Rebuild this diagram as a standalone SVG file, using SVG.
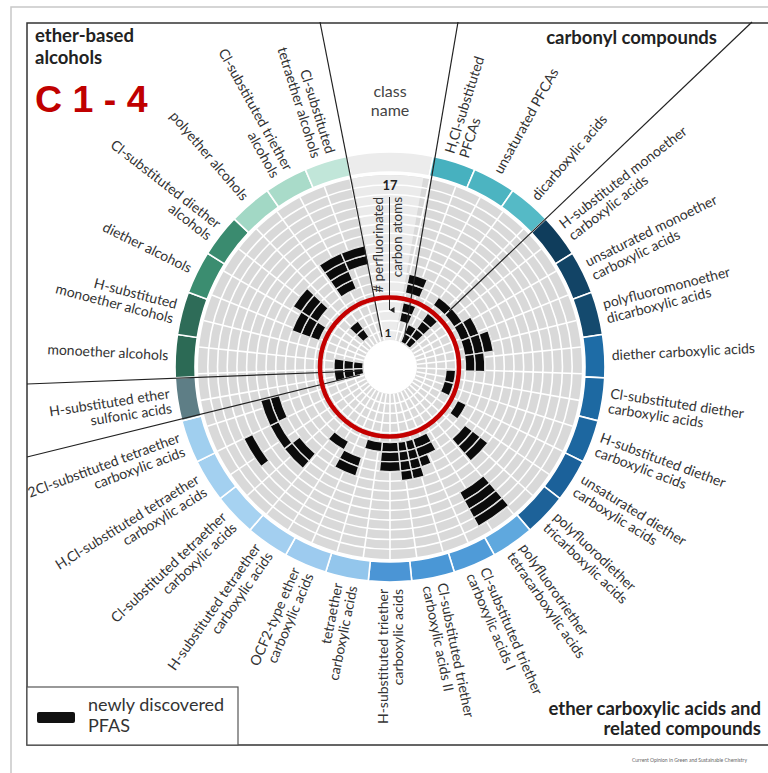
<svg xmlns="http://www.w3.org/2000/svg" width="768" height="773" viewBox="0 0 768 773">
<style>
.lbl{font-family:Lato,"Open Sans",sans-serif;font-size:14px;fill:#333}
.r{text-anchor:end}
.hd{font-family:Lato,"Open Sans",sans-serif;font-size:18.5px;font-weight:bold;fill:#222}
.seg{stroke:#fff;stroke-width:1.6}
.cell{fill:#0b0b0b;stroke:#e2e2e2;stroke-width:1.4;stroke-linejoin:round}
.grid{stroke:#fff;stroke-width:1.6;fill:none}
.guide{stroke:#222;stroke-width:1.2;fill:none}
</style>
<defs>
<path id="seg" class="seg" d="M-21.747,-213.897 A215 215 0 0 1 21.747,-213.897 L19.724,-194 A195 195 0 0 0 -19.724,-194Z"/>
<line id="gl" x1="0" y1="-27" x2="0" y2="-192" class="grid"/>
<path id="c1" class="cell" d="M-3.712,-36.512 A36.7 36.7 0 0 1 3.712,-36.512 L2.731,-26.861 A27 27 0 0 0 -2.731,-26.861Z"/>
<path id="c2" class="cell" d="M-4.693,-46.162 A46.4 46.4 0 0 1 4.693,-46.162 L3.712,-36.512 A36.7 36.7 0 0 0 -3.712,-36.512Z"/>
<path id="c3" class="cell" d="M-5.675,-55.812 A56.1 56.1 0 0 1 5.675,-55.812 L4.693,-46.162 A46.4 46.4 0 0 0 -4.693,-46.162Z"/>
<path id="c4" class="cell" d="M-6.656,-65.462 A65.8 65.8 0 0 1 6.656,-65.462 L5.675,-55.812 A56.1 56.1 0 0 0 -5.675,-55.812Z"/>
<path id="c6" class="cell" d="M-8.618,-84.763 A85.2 85.2 0 0 1 8.618,-84.763 L7.637,-75.113 A75.5 75.5 0 0 0 -7.637,-75.113Z"/>
<path id="c7" class="cell" d="M-9.599,-94.413 A94.9 94.9 0 0 1 9.599,-94.413 L8.618,-84.763 A85.2 85.2 0 0 0 -8.618,-84.763Z"/>
<path id="c8" class="cell" d="M-10.58,-104.063 A104.6 104.6 0 0 1 10.58,-104.063 L9.599,-94.413 A94.9 94.9 0 0 0 -9.599,-94.413Z"/>
<path id="c9" class="cell" d="M-11.561,-113.714 A114.3 114.3 0 0 1 11.561,-113.714 L10.58,-104.063 A104.6 104.6 0 0 0 -10.58,-104.063Z"/>
<path id="c10" class="cell" d="M-12.543,-123.364 A124 124 0 0 1 12.543,-123.364 L11.561,-113.714 A114.3 114.3 0 0 0 -11.561,-113.714Z"/>
<path id="c11" class="cell" d="M-13.524,-133.014 A133.7 133.7 0 0 1 13.524,-133.014 L12.543,-123.364 A124 124 0 0 0 -12.543,-123.364Z"/>
<path id="c13" class="cell" d="M-15.486,-152.315 A153.1 153.1 0 0 1 15.486,-152.315 L14.505,-142.664 A143.4 143.4 0 0 0 -14.505,-142.664Z"/>
<path id="c14" class="cell" d="M-16.467,-161.965 A162.8 162.8 0 0 1 16.467,-161.965 L15.486,-152.315 A153.1 153.1 0 0 0 -15.486,-152.315Z"/>
<path id="c15" class="cell" d="M-17.448,-171.615 A172.5 172.5 0 0 1 17.448,-171.615 L16.467,-161.965 A162.8 162.8 0 0 0 -16.467,-161.965Z"/>
<path id="c16" class="cell" d="M-18.43,-181.265 A182.2 182.2 0 0 1 18.43,-181.265 L17.448,-171.615 A172.5 172.5 0 0 0 -17.448,-171.615Z"/>
<path id="h6" class="cell" d="M-4.315,-85.091 A85.2 85.2 0 0 1 4.315,-85.091 L3.823,-75.403 A75.5 75.5 0 0 0 -3.823,-75.403Z"/>
<path id="h7" class="cell" d="M-4.806,-94.779 A94.9 94.9 0 0 1 4.806,-94.779 L4.315,-85.091 A85.2 85.2 0 0 0 -4.315,-85.091Z"/>
<path id="h8" class="cell" d="M-5.297,-104.466 A104.6 104.6 0 0 1 5.297,-104.466 L4.806,-94.779 A94.9 94.9 0 0 0 -4.806,-94.779Z"/>
<path id="h9" class="cell" d="M-5.788,-114.154 A114.3 114.3 0 0 1 5.788,-114.154 L5.297,-104.466 A104.6 104.6 0 0 0 -5.297,-104.466Z"/>
<marker id="tri" viewBox="0 0 6 6" refX="3" refY="5" markerWidth="6" markerHeight="6" markerUnits="userSpaceOnUse" orient="auto"><path d="M0,0 L6,0 L3,5Z" fill="#222"/></marker>
</defs>
<rect width="768" height="773" fill="#fff"/>
<path d="M11,773 L11,7 L768,7" fill="none" stroke="#c8c8c8" stroke-width="1.5"/>
<rect x="27" y="23" width="760" height="722" fill="none" stroke="#333" stroke-width="1.5"/>

<g id="disc" transform="translate(390 367)">
<circle r="191.9" fill="#d9d9d9"/>
<path d="M0,0 L-37.62,-188.28 A192 192 0 0 1 33.34,-189.08Z" fill="#ebebeb"/>
<g>
<use href="#gl" transform="rotate(12)"/><use href="#gl" transform="rotate(20)"/><use href="#gl" transform="rotate(28)"/><use href="#gl" transform="rotate(36)"/><use href="#gl" transform="rotate(44)"/><use href="#gl" transform="rotate(52)"/><use href="#gl" transform="rotate(60)"/><use href="#gl" transform="rotate(68)"/><use href="#gl" transform="rotate(76)"/><use href="#gl" transform="rotate(84)"/><use href="#gl" transform="rotate(92)"/><use href="#gl" transform="rotate(100)"/><use href="#gl" transform="rotate(108)"/><use href="#gl" transform="rotate(116)"/><use href="#gl" transform="rotate(124)"/><use href="#gl" transform="rotate(132)"/><use href="#gl" transform="rotate(140)"/><use href="#gl" transform="rotate(148)"/><use href="#gl" transform="rotate(156)"/><use href="#gl" transform="rotate(164)"/><use href="#gl" transform="rotate(172)"/><use href="#gl" transform="rotate(180)"/><use href="#gl" transform="rotate(188)"/><use href="#gl" transform="rotate(196)"/><use href="#gl" transform="rotate(204)"/><use href="#gl" transform="rotate(212)"/><use href="#gl" transform="rotate(220)"/><use href="#gl" transform="rotate(228)"/><use href="#gl" transform="rotate(236)"/><use href="#gl" transform="rotate(244)"/><use href="#gl" transform="rotate(252)"/><use href="#gl" transform="rotate(260)"/><use href="#gl" transform="rotate(268)"/><use href="#gl" transform="rotate(276)"/><use href="#gl" transform="rotate(284)"/><use href="#gl" transform="rotate(292)"/><use href="#gl" transform="rotate(300)"/><use href="#gl" transform="rotate(308)"/><use href="#gl" transform="rotate(316)"/><use href="#gl" transform="rotate(324)"/><use href="#gl" transform="rotate(332)"/><use href="#gl" transform="rotate(340)"/><use href="#gl" transform="rotate(348)"/>
</g>
<g class="grid">
<circle r="36.7"/><circle r="46.4"/><circle r="56.1"/><circle r="65.8"/><circle r="75.5"/><circle r="85.2"/><circle r="94.9"/><circle r="104.6"/><circle r="114.3"/><circle r="124"/><circle r="133.7"/><circle r="143.4"/><circle r="153.1"/><circle r="162.8"/><circle r="172.5"/><circle r="182.2"/>
</g>
<circle r="27" fill="#fff"/>
<path class="seg" d="M-43.277,-210.599 A215 215 0 0 1 43.277,-210.599 L39.252,-191.008 A195 195 0 0 0 -39.252,-191.008Z" fill="#ececec"/>
</g>

<g id="categories">
<g id="cat01" transform="translate(390 367) rotate(17.42)"><use href="#seg" fill="#47b1bf"/><use href="#c3"/><use href="#c4"/><use href="#c6"/><use href="#c7"/><text class="lbl" transform="translate(0 -222) rotate(-90)"><tspan x="0" y="-2.5">H,Cl-substituted</tspan><tspan x="0" y="12.5">PFCAs</tspan></text></g>
<g id="cat02" transform="translate(390 367) rotate(29.03)"><use href="#seg" fill="#4cb4c1"/><use href="#c1"/><use href="#c2"/><text class="lbl" transform="translate(0 -222) rotate(-90)" y="4.5">unsaturated PFCAs</text></g>
<g id="cat03" transform="translate(390 367) rotate(40.65)"><use href="#seg" fill="#55bac6"/><use href="#c1"/><use href="#c2"/><use href="#c3"/><use href="#c4"/><use href="#c6"/><text class="lbl" transform="translate(0 -222) rotate(-90)" y="4.5">dicarboxylic acids</text></g>
<g id="cat04" transform="translate(390 367) rotate(52.26)"><use href="#seg" fill="#0f3d5c"/><use href="#c6"/><text class="lbl" transform="translate(0 -222) rotate(-90)"><tspan x="0" y="-2.5">H-substituted monoether</tspan><tspan x="0" y="12.5">carboxylic acids</tspan></text></g>
<g id="cat05" transform="translate(390 367) rotate(63.87)"><use href="#seg" fill="#124466"/><use href="#c6"/><use href="#c7"/><text class="lbl" transform="translate(0 -222) rotate(-90)"><tspan x="0" y="-2.5">unsaturated monoether</tspan><tspan x="0" y="12.5">carboxylic acids</tspan></text></g>
<g id="cat06" transform="translate(390 367) rotate(75.48)"><use href="#seg" fill="#144a6e"/><use href="#c6"/><use href="#c7"/><use href="#c8"/><text class="lbl" transform="translate(0 -222) rotate(-90)"><tspan x="0" y="-2.5">polyfluoromonoether</tspan><tspan x="0" y="12.5">dicarboxylic acids</tspan></text></g>
<g id="cat07" transform="translate(390 367) rotate(87.10)"><use href="#seg" fill="#1e6ca6"/><use href="#c6"/><use href="#c7"/><text class="lbl" transform="translate(0 -222) rotate(-90)" y="4.5">diether carboxylic acids</text></g>
<g id="cat08" transform="translate(390 367) rotate(98.71)"><use href="#seg" fill="#1d69a2"/><use href="#c4"/><text class="lbl" transform="translate(0 -222) rotate(-90)"><tspan x="0" y="-2.5">Cl-substituted diether</tspan><tspan x="0" y="12.5">carboxylic acids</tspan></text></g>
<g id="cat09" transform="translate(390 367) rotate(110.32)"><use href="#seg" fill="#1d67a0"/><use href="#c4"/><text class="lbl" transform="translate(0 -222) rotate(-90)"><tspan x="0" y="-2.5">H-substituted diether</tspan><tspan x="0" y="12.5">carboxylic acids</tspan></text></g>
<g id="cat10" transform="translate(390 367) rotate(121.94)"><use href="#seg" fill="#1b619a"/><use href="#c6"/><text class="lbl" transform="translate(0 -222) rotate(-90)"><tspan x="0" y="-2.5">unsaturated diether</tspan><tspan x="0" y="12.5">carboxylic acids</tspan></text></g>
<g id="cat11" transform="translate(390 367) rotate(133.55)"><use href="#seg" fill="#1d6299"/><use href="#c8"/><use href="#c9"/><use href="#c10"/><text class="lbl" transform="translate(0 -222) rotate(-90)"><tspan x="0" y="-2.5">polyfluorodiether</tspan><tspan x="0" y="12.5">tricarboxylic acids</tspan></text></g>
<g id="cat12" transform="translate(390 367) rotate(145.16)"><use href="#seg" fill="#5fa8de"/><use href="#c13"/><use href="#c14"/><use href="#c15"/><use href="#c16"/><text class="lbl" transform="translate(0 -222) rotate(-90)"><tspan x="0" y="-2.5">polyfluorotriether</tspan><tspan x="0" y="12.5">tetracarboxylic acids</tspan></text></g>
<g id="cat13" transform="translate(390 367) rotate(156.77)"><use href="#seg" fill="#4f9bd8"/><use href="#c6"/><use href="#c7"/><use href="#h8" transform="rotate(2.9)"/><text class="lbl" transform="translate(0 -222) rotate(-90)"><tspan x="0" y="-2.5">Cl-substituted triether</tspan><tspan x="0" y="12.5">carboxylic acids I</tspan></text></g>
<g id="cat14" transform="translate(390 367) rotate(168.39)"><use href="#seg" fill="#4a97d6"/><use href="#h6" transform="rotate(-2.9)"/><use href="#h7" transform="rotate(-2.9)"/><use href="#h8" transform="rotate(-2.9)"/><use href="#h9" transform="rotate(-2.9)"/><use href="#h6" transform="rotate(2.9)"/><use href="#h7" transform="rotate(2.9)"/><use href="#h8" transform="rotate(2.9)"/><use href="#h9" transform="rotate(2.9)"/><text class="lbl" transform="translate(0 -222) rotate(-90)"><tspan x="0" y="-2.5">Cl-substituted triether</tspan><tspan x="0" y="12.5">carboxylic acids II</tspan></text></g>
<g id="cat15" transform="translate(390 367) rotate(180)"><use href="#seg" fill="#4b95d5"/><use href="#c6"/><use href="#c7"/><use href="#c8"/><text class="lbl r" transform="translate(0 -222) rotate(90)"><tspan x="0" y="-2.5">H-substituted triether</tspan><tspan x="0" y="12.5">carboxylic acids</tspan></text></g>
<g id="cat16" transform="translate(390 367) rotate(191.61)"><use href="#seg" fill="#93c6ec"/><use href="#c6"/><text class="lbl r" transform="translate(0 -222) rotate(90)"><tspan x="0" y="-2.5">tetraether</tspan><tspan x="0" y="12.5">carboxylic acids</tspan></text></g>
<g id="cat17" transform="translate(390 367) rotate(203.23)"><use href="#seg" fill="#9dcbef"/><use href="#c8"/><use href="#c9"/><text class="lbl r" transform="translate(0 -222) rotate(90)"><tspan x="0" y="-2.5">OCF2-type ether</tspan><tspan x="0" y="12.5">carboxylic acids</tspan></text></g>
<g id="cat18" transform="translate(390 367) rotate(214.84)"><use href="#seg" fill="#a3cff0"/><use href="#c7"/><text class="lbl r" transform="translate(0 -222) rotate(90)"><tspan x="0" y="-2.5">H-substituted tetraether</tspan><tspan x="0" y="12.5">carboxylic acids</tspan></text></g>
<g id="cat19" transform="translate(390 367) rotate(226.45)"><use href="#seg" fill="#a6d2f1"/><use href="#c10"/><use href="#c11"/><text class="lbl r" transform="translate(0 -222) rotate(90)"><tspan x="0" y="-2.5">Cl-substituted tetraether</tspan><tspan x="0" y="12.5">carboxylic acids</tspan></text></g>
<g id="cat20" transform="translate(390 367) rotate(238.06)"><use href="#seg" fill="#a3d0f0"/><use href="#c11"/><use href="#c14"/><text class="lbl r" transform="translate(0 -222) rotate(90)"><tspan x="0" y="-2.5">H,Cl-substituted tetraether</tspan><tspan x="0" y="12.5">carboxylic acids</tspan></text></g>
<g id="cat21" transform="translate(390 367) rotate(249.68)"><use href="#seg" fill="#a0cfef"/><use href="#c10"/><use href="#c11"/><text class="lbl r" transform="translate(0 -222) rotate(90)"><tspan x="0" y="-2.5">2Cl-substituted tetraether</tspan><tspan x="0" y="12.5">carboxylic acids</tspan></text></g>
<g id="cat22" transform="translate(390 367) rotate(261.29)"><use href="#seg" fill="#5e7e86"/><use href="#c1"/><use href="#c2"/><use href="#c3"/><text class="lbl r" transform="translate(0 -222) rotate(90)"><tspan x="0" y="-2.5">H-substituted ether</tspan><tspan x="0" y="12.5">sulfonic acids</tspan></text></g>
<g id="cat23" transform="translate(390 367) rotate(272.90)"><use href="#seg" fill="#2c6a55"/><use href="#c1"/><use href="#c2"/><use href="#c3"/><text class="lbl r" transform="translate(0 -222) rotate(90)" y="4.5">monoether alcohols</text></g>
<g id="cat24" transform="translate(390 367) rotate(284.52)"><use href="#seg" fill="#2e6c58"/><text class="lbl r" transform="translate(0 -222) rotate(90)"><tspan x="0" y="-2.5">H-substituted</tspan><tspan x="0" y="12.5">monoether alcohols</tspan></text></g>
<g id="cat25" transform="translate(390 367) rotate(296.13)"><use href="#seg" fill="#3b8d70"/><use href="#c6"/><use href="#c7"/><use href="#c8"/><text class="lbl r" transform="translate(0 -222) rotate(90)" y="4.5">diether alcohols</text></g>
<g id="cat26" transform="translate(390 367) rotate(307.74)"><use href="#seg" fill="#3a8b6f"/><use href="#c7"/><use href="#c8"/><use href="#c9"/><text class="lbl r" transform="translate(0 -222) rotate(90)"><tspan x="0" y="-2.5">Cl-substituted diether</tspan><tspan x="0" y="12.5">alcohols</tspan></text></g>
<g id="cat27" transform="translate(390 367) rotate(319.35)"><use href="#seg" fill="#a2d8c5"/><use href="#c2"/><use href="#c3"/><text class="lbl r" transform="translate(0 -222) rotate(90)" y="4.5">polyether alcohols</text></g>
<g id="cat28" transform="translate(390 367) rotate(330.97)"><use href="#seg" fill="#a9dbc9"/><use href="#c7"/><use href="#c8"/><use href="#c9"/><use href="#c10"/><text class="lbl r" transform="translate(0 -222) rotate(90)"><tspan x="0" y="-2.5">Cl-substituted triether</tspan><tspan x="0" y="12.5">alcohols</tspan></text></g>
<g id="cat29" transform="translate(390 367) rotate(342.58)"><use href="#seg" fill="#c1e6d9"/><use href="#c9"/><use href="#c10"/><text class="lbl r" transform="translate(0 -222) rotate(90)"><tspan x="0" y="-2.5">Cl-substituted</tspan><tspan x="0" y="12.5">tetraether alcohols</tspan></text></g>
</g>

<g id="connectors" class="guide">
<line x1="320" y1="22" x2="382" y2="337"/>
<line x1="458" y1="22" x2="404" y2="340"/>
<line x1="752" y1="22" x2="449" y2="311"/>
<line x1="27" y1="384" x2="360" y2="371"/>
<line x1="27" y1="457" x2="360" y2="375"/>
<line x1="389.5" y1="197" x2="389.5" y2="310" stroke-width="1" marker-end="url(#tri)"/>
</g>

<g id="axis-labels">
<text x="390" y="97" text-anchor="middle" style="font-family:Lato,'Open Sans',sans-serif;font-size:16px;fill:#444">class</text>
<text x="390" y="116" text-anchor="middle" style="font-family:Lato,'Open Sans',sans-serif;font-size:16px;fill:#444">name</text>
<text x="390" y="190" text-anchor="middle" style="font-family:Lato,'Open Sans',sans-serif;font-size:13px;font-weight:bold;fill:#222">17</text>
<text x="388" y="337" text-anchor="middle" style="font-family:Lato,'Open Sans',sans-serif;font-size:12px;font-weight:bold;fill:#222">1</text>
<text class="lbl" transform="translate(382.5 197) rotate(-90)" text-anchor="end" style="font-size:13.5px">
# perfluorinated</text>
<text class="lbl" transform="translate(401.5 197) rotate(-90)" text-anchor="end" style="font-size:13.5px">carbon atoms</text>
</g>

<circle id="highlight" cx="389.5" cy="367" r="69.5" fill="none" stroke="#c40000" stroke-width="4.5"/>

<g id="headings">
<text class="hd" x="35" y="42">ether-based</text>
<text class="hd" x="35" y="64">alcohols</text>
<text x="35" y="112" style="font-family:'Liberation Sans',Arial,sans-serif;font-size:37.5px;font-weight:bold;fill:#c00000">C 1 - 4</text>
<text class="hd" x="717" y="44" text-anchor="end">carbonyl compounds</text>
<text class="hd" x="761" y="715" text-anchor="end">ether carboxylic acids and</text>
<text class="hd" x="761" y="735" text-anchor="end">related compounds</text>
</g>

<g id="legend">
<rect x="27" y="687" width="211" height="58" fill="#fff" stroke="#555" stroke-width="1.2"/>
<rect x="37" y="712" width="38" height="11" rx="2" fill="#111"/>
<text x="88" y="711" style="font-family:Lato,'Open Sans',sans-serif;font-size:18px;fill:#333">newly discovered</text>
<text x="88" y="732" style="font-family:Lato,'Open Sans',sans-serif;font-size:18px;fill:#333">PFAS</text>
</g>
<text x="632" y="762" style="font-family:Lato,sans-serif;font-size:5px;fill:#666">Current Opinion in Green and Sustainable Chemistry</text>
</svg>
